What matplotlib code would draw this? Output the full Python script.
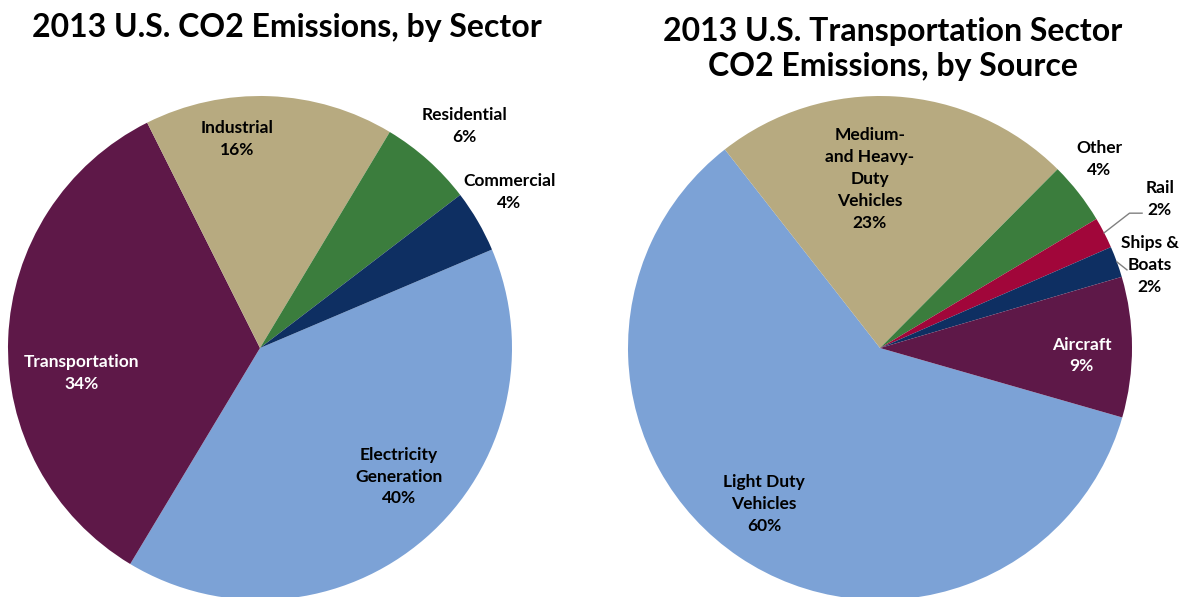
import numpy as np
import matplotlib
matplotlib.use("Agg")
import matplotlib.pyplot as plt

plt.rcParams['font.family'] = ['Lato', 'DejaVu Sans']

# left pie: sectors, clockwise from electricity
sector_names = ["Electricity\nGeneration", "Transportation", "Industrial", "Residential", "Commercial"]
sector_vals = [40, 34, 16, 6, 4]
sector_colors = ["#7CA2D6", "#5E1848", "#B7AA80", "#3B7D3D", "#0E2F62"]
sector_text = ["black", "white", "black", "black", "black"]
# label positions in pie-radius units
sector_pos = [(0.55, -0.51), (-0.71, -0.10), (-0.09, 0.83), (0.81, 0.88), (0.99, 0.62)]

# right pie: transportation sources, clockwise from light duty
source_names = ["Light Duty\nVehicles", "Medium-\nand Heavy-\nDuty\nVehicles", "Other", "Rail", "Ships &\nBoats", "Aircraft"]
source_vals = [60, 23, 4, 2, 2, 9]
source_colors = ["#7CA2D6", "#B7AA80", "#3B7D3D", "#A1063A", "#0E2F62", "#5E1848"]
source_text = ["black", "black", "black", "black", "black", "white"]
source_pos = [(-0.46, -0.62), (-0.04, 0.67), (0.87, 0.75), (1.11, 0.59), (1.07, 0.33), (0.80, -0.03)]

W, H = 1192, 597
fig = plt.figure(figsize=(W / 100, H / 100), dpi=100)


def pie_axes(cx, cy, r):
    # cx, cy in pixels from top-left
    return fig.add_axes([(cx - r) / W, (H - cy - r) / H, 2 * r / W, 2 * r / H])


def draw(ax, names, vals, colors, tcolors, pos, start):
    wedges, _ = ax.pie(vals, colors=colors, startangle=start, counterclock=False,
                       radius=1.0, wedgeprops=dict(linewidth=0))
    for name, v, (x, y), c in zip(names, vals, pos, tcolors):
        ax.text(x, y, f"{name}\n{v}%", ha="center", va="center", color=c,
                fontsize=12.5, fontweight="bold", linespacing=1.45)
    ax.set_xlim(-1, 1)
    ax.set_ylim(-1, 1)
    ax.set_aspect("equal")
    ax.axis("off")
    return wedges


ax1 = pie_axes(260, 348, 252)
draw(ax1, sector_names, sector_vals, sector_colors, sector_text, sector_pos, 23)

ax2 = pie_axes(880, 348, 252)
w2 = draw(ax2, source_names, source_vals, source_colors, source_text, source_pos, -16)


# leader lines for the thin slices (from wedge mid-angle on the rim)
def rim(w):
    a = np.radians((w.theta1 + w.theta2) / 2)
    return np.cos(a), np.sin(a)

ex, ey = rim(w2[3])
ax2.plot([ex, 0.99, 1.04], [ey, 0.535, 0.535], color="#808080", lw=1, clip_on=False)
ex, ey = rim(w2[4])
ax2.plot([ex, 0.98], [ey, 0.31], color="#808080", lw=1, clip_on=False)

fig.text(287 / W, 1 - 28 / H, "2013 U.S. CO2 Emissions, by Sector", ha="center", va="center",
         fontsize=23, fontweight="bold")
fig.text(893 / W, 1 - 49 / H, "2013 U.S. Transportation Sector\nCO2 Emissions, by Source",
         ha="center", va="center", fontsize=23, fontweight="bold", linespacing=1.25)

fig.savefig("out.png", dpi=100)
